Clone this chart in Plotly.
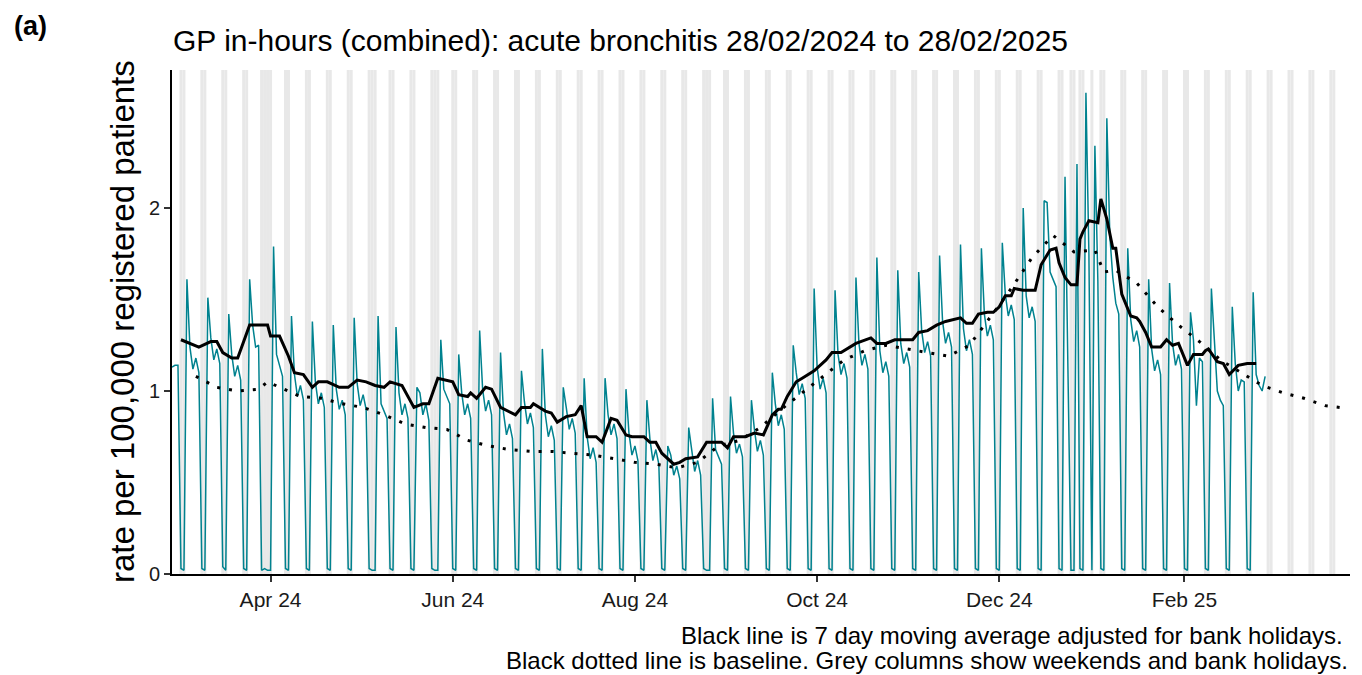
import pandas as pd
import plotly.graph_objects as go

# daily rate per 100,000, 28/02/2024 (Wed) to 28/02/2025 (Fri); weeks listed Mon..Sun
daily_rate = [
    1.13, 1.14, 1.14, 0.03, 0.02,                      # Wed 28 Feb - Sun 3 Mar
    1.61, 1.24, 1.12, 1.18, 1.10, 0.03, 0.02,          # 4 Mar
    1.51, 1.29, 1.17, 1.23, 1.15, 0.04, 0.02,
    1.42, 1.20, 1.08, 1.14, 1.06, 0.03, 0.02,
    1.61, 1.36, 1.24, 1.25, 0.02, 0.03, 0.02,          # Good Friday
    0.02, 1.79, 1.20, 1.14, 1.08, 0.03, 0.02,          # Easter Monday
    1.41, 1.09, 0.97, 1.03, 0.95, 0.03, 0.02,
    1.38, 1.05, 0.93, 0.99, 0.91, 0.03, 0.02,
    1.36, 1.01, 0.90, 0.95, 0.87, 0.03, 0.02,
    1.40, 1.04, 0.92, 0.98, 0.90, 0.03, 0.02,
    0.02, 1.41, 0.93, 0.89, 0.85, 0.03, 0.02,          # 6 May bank holiday
    1.35, 0.99, 0.87, 0.93, 0.85, 0.03, 0.02,
    1.02, 0.99, 0.87, 0.93, 0.84, 0.03, 0.02,
    0.02, 1.28, 1.01, 0.97, 0.93, 0.03, 0.02,          # 27 May bank holiday
    1.20, 0.99, 0.87, 0.93, 0.85, 0.03, 0.02,
    1.33, 1.01, 0.89, 0.95, 0.87, 0.03, 0.02,
    1.21, 0.88, 0.76, 0.82, 0.74, 0.03, 0.02,
    1.11, 0.94, 0.82, 0.88, 0.80, 0.03, 0.02,
    1.23, 0.87, 0.75, 0.81, 0.73, 0.03, 0.02,          # 1 Jul
    1.02, 0.91, 0.79, 0.85, 0.77, 0.03, 0.02,
    1.07, 0.75, 0.63, 0.69, 0.61, 0.03, 0.02,
    1.07, 0.87, 0.76, 0.82, 0.74, 0.03, 0.02,
    1.01, 0.77, 0.65, 0.70, 0.62, 0.03, 0.02,
    0.95, 0.74, 0.62, 0.68, 0.60, 0.03, 0.02,          # 5 Aug
    0.70, 0.65, 0.54, 0.59, 0.52, 0.03, 0.02,
    0.80, 0.68, 0.56, 0.62, 0.54, 0.03, 0.02,
    0.02, 0.96, 0.68, 0.64, 0.60, 0.03, 0.02,          # 26 Aug bank holiday
    0.97, 0.77, 0.66, 0.71, 0.64, 0.03, 0.02,
    0.95, 0.79, 0.67, 0.73, 0.65, 0.03, 0.02,
    1.10, 0.93, 0.81, 0.87, 0.79, 0.03, 0.02,
    1.25, 1.10, 0.98, 1.04, 0.96, 0.03, 0.02,
    1.56, 1.13, 1.01, 1.07, 0.99, 0.03, 0.02,          # 30 Sep
    1.55, 1.20, 1.09, 1.15, 1.07, 0.03, 0.02,
    1.62, 1.26, 1.14, 1.20, 1.12, 0.03, 0.02,
    1.73, 1.22, 1.10, 1.16, 1.08, 0.03, 0.02,
    1.66, 1.26, 1.15, 1.21, 1.13, 0.03, 0.02,
    1.65, 1.33, 1.21, 1.27, 1.19, 0.03, 0.02,          # 4 Nov
    1.74, 1.38, 1.26, 1.32, 1.24, 0.03, 0.02,
    1.80, 1.34, 1.22, 1.28, 1.20, 0.03, 0.02,
    1.78, 1.42, 1.30, 1.36, 1.28, 0.03, 0.02,
    1.81, 1.53, 1.41, 1.47, 1.39, 0.03, 0.02,          # 2 Dec
    2.00, 1.52, 1.40, 1.46, 1.38, 0.03, 0.02,
    2.04, 2.03, 1.65, 1.61, 1.57, 0.03, 0.02,
    2.17, 1.20, 0.02, 0.02, 2.24, 0.03, 0.02,          # Christmas
    2.63, 1.75, 0.02, 2.34, 1.60, 0.03, 0.02,          # New Year
    2.49, 1.85, 1.62, 1.48, 1.42, 0.03, 0.02,
    1.78, 1.39, 1.27, 1.33, 1.24, 0.03, 0.02,
    1.61, 1.23, 1.11, 1.17, 1.09, 0.03, 0.02,
    1.59, 1.26, 1.14, 1.20, 1.12, 0.03, 0.02,
    1.43, 1.28, 0.92, 1.18, 1.16, 0.03, 0.02,          # 3 Feb
    1.56, 1.26, 1.00, 0.95, 0.92, 0.03, 0.02,
    1.46, 1.15, 1.00, 1.06, 1.05, 0.03, 0.02,
    1.54, 1.09, 1.03, 1.00, 1.08,                      # 24-28 Feb
]

# 7 day moving average (adjusted for bank holidays)
ma_dates = [
    "2024-03-02", "2024-03-05", "2024-03-08", "2024-03-12", "2024-03-14", "2024-03-16",
    "2024-03-19", "2024-03-21", "2024-03-25", "2024-03-31", "2024-04-01", "2024-04-04",
    "2024-04-07", "2024-04-09", "2024-04-12", "2024-04-15", "2024-04-17", "2024-04-20",
    "2024-04-24", "2024-04-27", "2024-04-30", "2024-05-03", "2024-05-06", "2024-05-09",
    "2024-05-11", "2024-05-15", "2024-05-19", "2024-05-22", "2024-05-24", "2024-05-27",
    "2024-06-01", "2024-06-03", "2024-06-06", "2024-06-07", "2024-06-09", "2024-06-12",
    "2024-06-14", "2024-06-17", "2024-06-22", "2024-06-24", "2024-06-27", "2024-06-28",
    "2024-07-02", "2024-07-04", "2024-07-06", "2024-07-09", "2024-07-12", "2024-07-14",
    "2024-07-16", "2024-07-19", "2024-07-21", "2024-07-24", "2024-07-26", "2024-07-29",
    "2024-07-31", "2024-08-04", "2024-08-06", "2024-08-08", "2024-08-10", "2024-08-14",
    "2024-08-16", "2024-08-18", "2024-08-22", "2024-08-25", "2024-08-30", "2024-09-01",
    "2024-09-03", "2024-09-07", "2024-09-10", "2024-09-13", "2024-09-14", "2024-09-16",
    "2024-09-18", "2024-09-19", "2024-09-21", "2024-09-24", "2024-09-26", "2024-09-30",
    "2024-10-04", "2024-10-06", "2024-10-09", "2024-10-14", "2024-10-19", "2024-10-21",
    "2024-10-24", "2024-10-27", "2024-11-02", "2024-11-04", "2024-11-07", "2024-11-10",
    "2024-11-13", "2024-11-16", "2024-11-18", "2024-11-20", "2024-11-22", "2024-11-24",
    "2024-11-27", "2024-11-29", "2024-12-01", "2024-12-03", "2024-12-05", "2024-12-06",
    "2024-12-09", "2024-12-13", "2024-12-15", "2024-12-18", "2024-12-20", "2024-12-21",
    "2024-12-23", "2024-12-25", "2024-12-27", "2024-12-28", "2024-12-29", "2024-12-31",
    "2025-01-03", "2025-01-04", "2025-01-06", "2025-01-08", "2025-01-09", "2025-01-11",
    "2025-01-14", "2025-01-16", "2025-01-17", "2025-01-19", "2025-01-21", "2025-01-24",
    "2025-01-26", "2025-01-28", "2025-01-30", "2025-02-02", "2025-02-04", "2025-02-07",
    "2025-02-08", "2025-02-09", "2025-02-12", "2025-02-14", "2025-02-16", "2025-02-19",
    "2025-02-22", "2025-02-25",
]
ma_values = [
    1.28, 1.26, 1.24, 1.27, 1.27, 1.21,
    1.18, 1.18, 1.36, 1.36, 1.30, 1.30,
    1.19, 1.10, 1.09, 1.02, 1.05, 1.05,
    1.02, 1.02, 1.06, 1.05, 1.03, 1.02,
    1.05, 1.03, 0.91, 0.93, 0.93, 1.07,
    1.05, 0.98, 0.97, 0.99, 0.96, 1.02,
    1.01, 0.91, 0.87, 0.91, 0.91, 0.93,
    0.89, 0.88, 0.83, 0.86, 0.87, 0.92,
    0.75, 0.75, 0.72, 0.85, 0.84, 0.76,
    0.75, 0.75, 0.72, 0.72, 0.66, 0.60,
    0.61, 0.63, 0.64, 0.72, 0.72, 0.69,
    0.75, 0.75, 0.77, 0.76, 0.80, 0.87,
    0.90, 0.90, 0.97, 1.05, 1.07, 1.11,
    1.17, 1.21, 1.21, 1.26, 1.29, 1.26,
    1.26, 1.28, 1.28, 1.32, 1.33, 1.36,
    1.38, 1.39, 1.40, 1.37, 1.37, 1.42,
    1.43, 1.43, 1.46, 1.52, 1.52, 1.56,
    1.55, 1.55, 1.69, 1.77, 1.78, 1.70,
    1.62, 1.58, 1.58, 1.83, 1.87, 1.93,
    1.92, 2.05, 1.94, 1.78, 1.78, 1.53,
    1.41, 1.40, 1.38, 1.32, 1.24, 1.24,
    1.28, 1.25, 1.26, 1.14, 1.20, 1.20,
    1.22, 1.23, 1.16, 1.15, 1.09, 1.14,
    1.15, 1.15,
]

# baseline (dotted)
baseline_dates = [
    "2024-03-07", "2024-03-14", "2024-03-21", "2024-03-28", "2024-03-31", "2024-04-04",
    "2024-04-11", "2024-04-18", "2024-04-25", "2024-05-02", "2024-05-09", "2024-05-16",
    "2024-05-23", "2024-05-30", "2024-06-06", "2024-06-13", "2024-06-20", "2024-06-27",
    "2024-07-04", "2024-07-11", "2024-07-18", "2024-07-25", "2024-08-01", "2024-08-08",
    "2024-08-15", "2024-08-22", "2024-08-26", "2024-08-29", "2024-09-05", "2024-09-12",
    "2024-09-19", "2024-09-26", "2024-10-03", "2024-10-10", "2024-10-17", "2024-10-24",
    "2024-10-31", "2024-11-07", "2024-11-14", "2024-11-21", "2024-11-28", "2024-12-01",
    "2024-12-05", "2024-12-12", "2024-12-19", "2024-12-22", "2024-12-26", "2025-01-02",
    "2025-01-05", "2025-01-09", "2025-01-16", "2025-01-23", "2025-01-30", "2025-02-06",
    "2025-02-13", "2025-02-20", "2025-02-27", "2025-03-06", "2025-03-13", "2025-03-20",
    "2025-03-25",
]
baseline_values = [
    1.08, 1.02, 1.00, 1.01, 1.05, 1.02,
    0.97, 0.96, 0.93, 0.91, 0.87, 0.82,
    0.80, 0.79, 0.73, 0.70, 0.68, 0.67,
    0.67, 0.66, 0.65, 0.63, 0.61, 0.60,
    0.58, 0.61, 0.66, 0.70, 0.73, 0.80,
    0.90, 0.99, 1.08, 1.17, 1.22, 1.25,
    1.23, 1.21, 1.19, 1.25, 1.40, 1.47,
    1.56, 1.73, 1.85, 1.81, 1.76, 1.77,
    1.65, 1.66, 1.59, 1.46, 1.36, 1.27,
    1.17, 1.10, 1.03, 0.99, 0.96, 0.92,
    0.91,
]

bank_holidays = ["2024-03-29", "2024-04-01", "2024-05-06", "2024-05-27", "2024-08-26",
                 "2024-12-25", "2024-12-26", "2025-01-01"]

tick_dates = ["2024-04-01", "2024-06-01", "2024-08-01", "2024-10-01", "2024-12-01", "2025-02-01"]
tick_labels = ["Apr 24", "Jun 24", "Aug 24", "Oct 24", "Dec 24", "Feb 25"]

x_start, x_end = "2024-02-28", "2025-03-28 10:00"
font = "Liberation Sans, Arial, sans-serif"

dates = pd.date_range("2024-02-28", periods=len(daily_rate), freq="D")

# grey columns: weekends and bank holidays over the whole axis
all_days = pd.date_range("2024-02-28", "2025-03-28", freq="D")
grey_days = sorted(set(all_days[all_days.dayofweek >= 5]) | set(pd.to_datetime(bank_holidays)))
half = pd.Timedelta(hours=12)

fig = go.Figure()

for d in grey_days:
    fig.add_shape(
        type="rect", xref="x", yref="paper",
        x0=(d - half).strftime("%Y-%m-%d %H:%M"), x1=(d + half).strftime("%Y-%m-%d %H:%M"),
        y0=0, y1=1, fillcolor="#E8E8E8", line=dict(width=0), layer="below",
    )

fig.add_trace(go.Scatter(
    x=dates, y=daily_rate, mode="lines",
    line=dict(color="#00828F", width=1.5), showlegend=False,
))
fig.add_trace(go.Scatter(
    x=pd.to_datetime(baseline_dates), y=baseline_values, mode="lines",
    line=dict(color="black", width=3, dash="3px,9px"), showlegend=False,
))
fig.add_trace(go.Scatter(
    x=pd.to_datetime(ma_dates), y=ma_values, mode="lines",
    line=dict(color="black", width=3), showlegend=False,
))

# page body has an 8px margin, so the figure is 8px smaller each way
fig.update_layout(
    width=1354, height=667,
    margin=dict(l=164, r=12, t=62, b=101),
    plot_bgcolor="white", paper_bgcolor="white",
    font=dict(family=font, color="black"),
    xaxis=dict(
        type="date", range=[x_start, x_end],
        tickvals=tick_dates, ticktext=tick_labels,
        showgrid=False, zeroline=False,
        showline=True, linecolor="black", linewidth=2,
        ticks="outside", ticklen=6, tickwidth=1.5, tickcolor="#333333",
        tickfont=dict(size=21, color="#1a1a1a"),
    ),
    yaxis=dict(
        range=[0, 2.754], tickvals=[0, 1, 2],
        showgrid=False, zeroline=False,
        showline=True, linecolor="black", linewidth=2,
        ticks="outside", ticklen=6, tickwidth=1.5, tickcolor="#333333",
        tickfont=dict(size=20, color="#1a1a1a"),
    ),
)

fig.add_annotation(text="<b>(a)</b>", xref="paper", yref="paper", x=-0.1358, y=1.0873,
                   xanchor="left", yanchor="middle", showarrow=False,
                   font=dict(size=27, family=font))
fig.add_annotation(text="GP in-hours (combined): acute bronchitis 28/02/2024 to 28/02/2025",
                   xref="paper", yref="paper", x=-0.001, y=1.0595,
                   xanchor="left", yanchor="middle", showarrow=False,
                   font=dict(size=30, family=font))
fig.add_annotation(text="rate per 100,000 registered patients", xref="paper", yref="paper",
                   x=-0.0424, y=0.5, textangle=-90, xanchor="center", yanchor="middle",
                   showarrow=False, font=dict(size=33, family=font))
fig.add_annotation(text="Black line is 7 day moving average adjusted for bank holidays.",
                   xref="paper", yref="paper", x=0.9955, y=-0.123,
                   xanchor="right", yanchor="middle", showarrow=False,
                   font=dict(size=24, family=font))
fig.add_annotation(text="Black dotted line is baseline. Grey columns show weekends and bank holidays.",
                   xref="paper", yref="paper", x=1.0, y=-0.1726,
                   xanchor="right", yanchor="middle", showarrow=False,
                   font=dict(size=24, family=font))

fig.write_html("out.html")
